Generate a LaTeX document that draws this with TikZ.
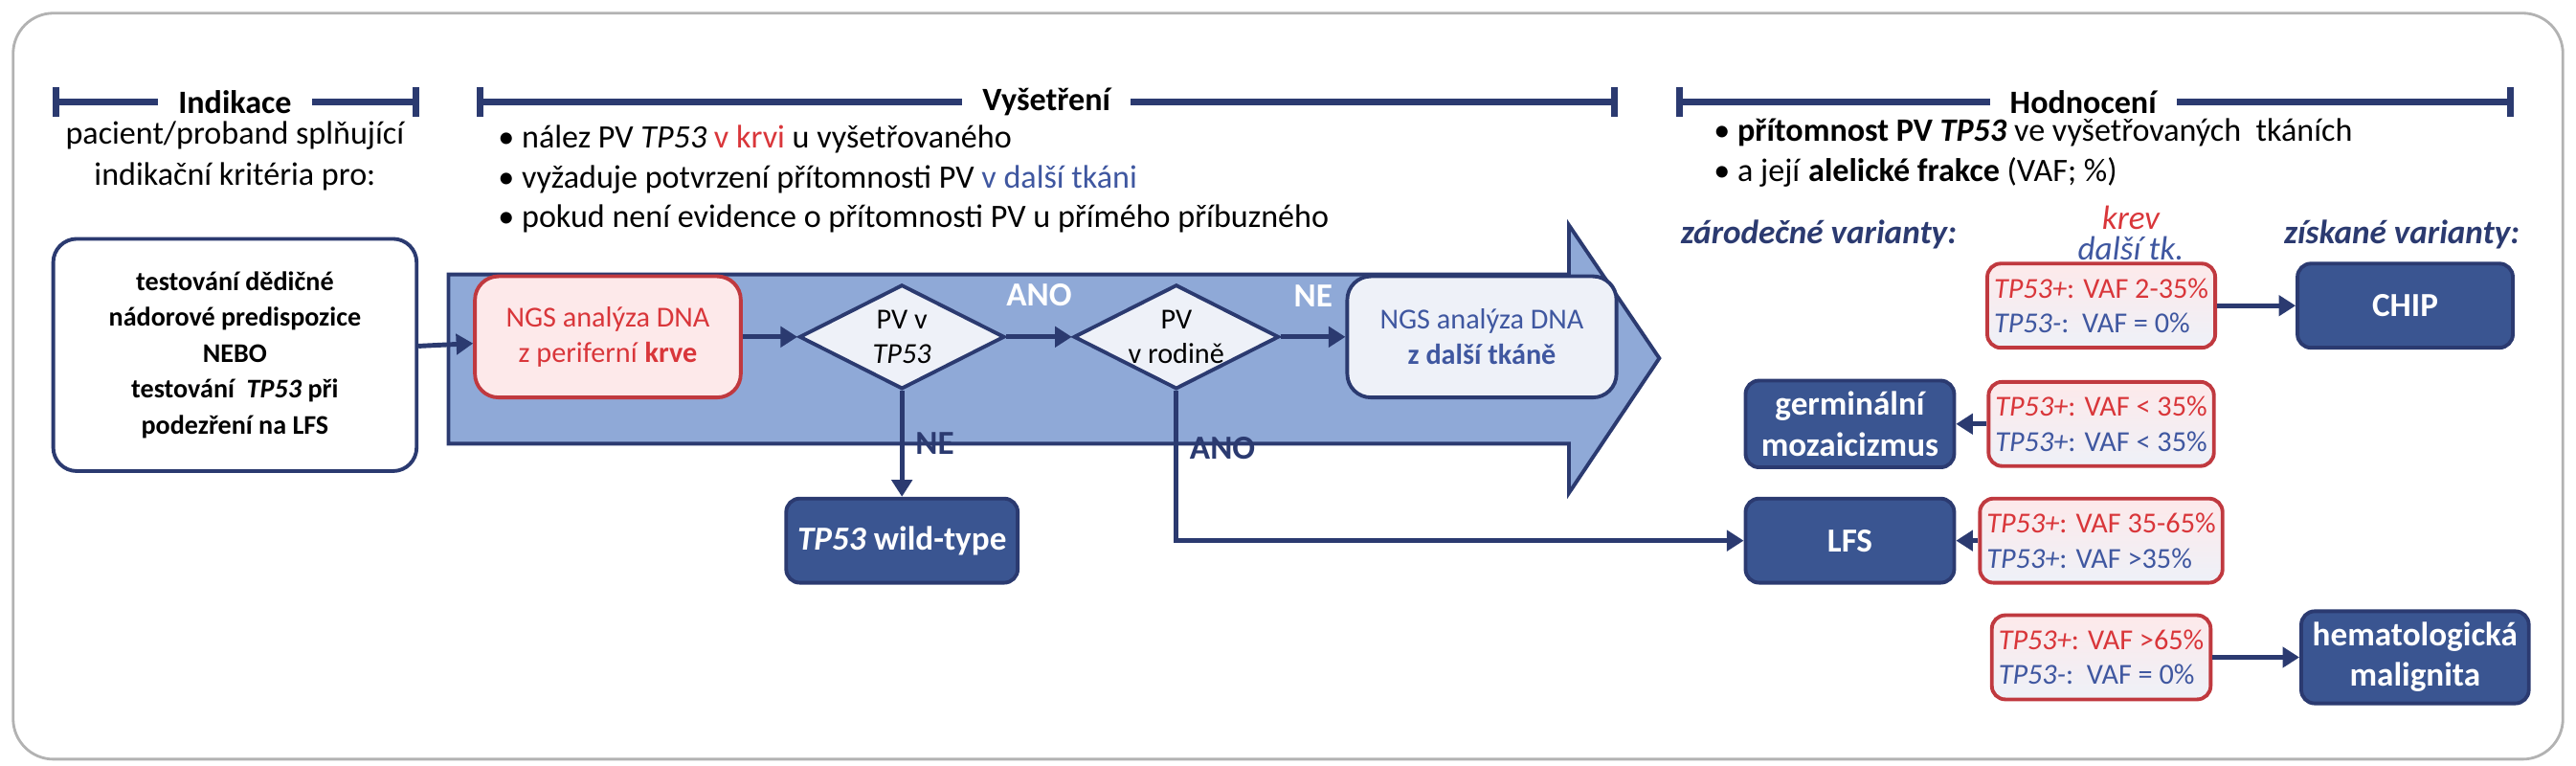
\documentclass[tikz,border=0pt]{standalone}
\usepackage{fontspec}
\setmainfont{Carlito}
\usetikzlibrary{arrows.meta,shapes.geometric,positioning}
\definecolor{navy}{HTML}{2B3A70}
\definecolor{boxblue}{HTML}{3A5591}
\definecolor{arrowfill}{HTML}{8FA9D7}
\definecolor{paleblue}{HTML}{EEF1F8}
\definecolor{redtxt}{HTML}{D9363A}
\definecolor{redline}{HTML}{C0393F}
\definecolor{palered}{HTML}{FDE9EA}
\definecolor{bluetxt}{HTML}{3F57A0}
\tikzset{
  bar/.style={navy,line width=2pt,{Bar[width=9pt]}-{Bar[width=9pt]}},
  bartxt/.style={fill=white,font=\bfseries,text=black,inner xsep=6pt},
  flow/.style={navy,line width=1.4pt,-{Triangle[length=5pt,width=6pt]}},
  dark/.style={rounded corners=4pt,draw=navy,line width=1.1pt,fill=boxblue,text=white,font=\bfseries,align=center,minimum height=25pt},
  vaf/.style={rounded corners=4pt,draw=redline,line width=1.1pt,top color=palered,bottom color=paleblue,align=left,minimum height=25pt,minimum width=64pt,inner xsep=2pt},
  dia/.style={diamond,aspect=2,draw=navy,line width=1.1pt,fill=paleblue,align=center,inner sep=0pt,minimum width=61pt,minimum height=31pt},
  lbl/.style={font=\bfseries},
  note/.style={font=\fontsize{9.7}{11.2}\selectfont}
}
\begin{document}
\begin{tikzpicture}[x=0.1716mm,y=-0.1716mm,font=\fontsize{8.6}{10.4}\selectfont]
\useasboundingbox (0,0) rectangle (1568,466);
\draw[gray!60,line width=0.8pt,rounded corners=12pt] (8,8) rectangle (1560,462);
% headers
\draw[bar] (32,62) -- (255,62);
\node[bartxt,note] (hind) at (143,62) {\bfseries Indikace};
\draw[bar] (290,62) -- (985,62);
\node[bartxt,note] (hvys) at (637,62) {\bfseries Vyšetření};
\draw[bar] (1020,62) -- (1530,62);
\node[bartxt,note] (hhod) at (1268,62) {\bfseries Hodnocení};
\node[note,align=center] (ind) at (143,95) {pacient/proband splňující\\[1pt]indikační kritéria pro:};
\node[note,anchor=west,align=left] (vys) at (296,109) {\textbullet\ nález PV \textit{TP53} \textcolor{redtxt}{v krvi} u vyšetřovaného\\[0.6pt]
\textbullet\ vyžaduje potvrzení přítomnosti PV \textcolor{bluetxt}{v další tkáni}\\[0.6pt]
\textbullet\ pokud není evidence o přítomnosti PV u přímého příbuzného};
\node[note,anchor=west,align=left] (hod) at (1036,93) {\textbullet\ \textbf{přítomnost PV \textit{TP53}} ve vyšetřovaných\ \ tkáních\\[0.5pt]
\textbullet\ a její \textbf{alelické frakce} (VAF; \%)};
% big arrow
\draw[navy,line width=1.1pt,fill=arrowfill] (273,167) -- (955,167) -- (955,137) -- (1010,218) -- (955,300) -- (955,270) -- (273,270) -- cycle;
% nodes
\node[rounded corners=7pt,draw=navy,line width=1.1pt,fill=white,align=center,font=\fontsize{8}{10.7}\selectfont\bfseries,minimum width=108pt,minimum height=69pt] (start) at (143,216) {testování dědičné\\nádorové predispozice\\NEBO\\testování\ \ \textit{TP53} při\\podezření na LFS};
\node[rounded corners=7pt,draw=redline,line width=1.1pt,fill=palered,text=redtxt,align=center,minimum width=79pt,minimum height=36pt] (ngs1) at (370,205) {NGS analýza DNA\\z periferní \textbf{krve}};
\node[dia] (d1) at (549,205) {PV v\\\textit{TP53}};
\node[dia] (d2) at (716,205) {PV\\v rodině};
\node[rounded corners=7pt,draw=navy,line width=1.1pt,fill=paleblue,text=bluetxt,align=center,minimum width=80pt,minimum height=36pt] (ngs2) at (902,205) {NGS analýza DNA\\\textbf{z další tkáně}};
\node[dark,minimum width=63pt] (wt) at (549,329) {\textit{TP53} wild-type};
\node[dark,minimum width=62pt] (lfs) at (1126,329) {LFS};
\node[dark,minimum width=62pt] (germ) at (1126,258) {germinální\\mozaicizmus};
\node[dark,minimum width=64pt] (chip) at (1464,186) {CHIP};
\node[dark,minimum width=64pt] (hema) at (1470,400) {hematologická\\malignita};
\node[vaf] (v1) at (1279,186) {\textcolor{redtxt}{\textit{TP53+}: VAF 2-35\%}\\\textcolor{bluetxt}{\textit{TP53-}:\ \ VAF = 0\%}};
\node[vaf] (v2) at (1279,258) {\textcolor{redtxt}{\textit{TP53+}: VAF < 35\%}\\\textcolor{bluetxt}{\textit{TP53+}: VAF < 35\%}};
\node[vaf] (v3) at (1279,329) {\textcolor{redtxt}{\textit{TP53+}: VAF 35-65\%}\\\textcolor{bluetxt}{\textit{TP53+}: VAF >35\%}};
\node[vaf] (v4) at (1279,400) {\textcolor{redtxt}{\textit{TP53+}: VAF >65\%}\\\textcolor{bluetxt}{\textit{TP53-}:\ \ VAF = 0\%}};
\node[align=center,font=\itshape,inner sep=0pt] (krev) at (1297,142) {\textcolor{redtxt}{krev}\\[-3pt]\textcolor{bluetxt}{další tk.}};
\node[font=\bfseries\itshape,text=navy] (zar) at (1107,143) {zárodečné varianty:};
\node[font=\bfseries\itshape,text=navy] (zis) at (1462,143) {získané varianty:};
% connectors
\draw[flow] (start) -- (ngs1);
\draw[flow] (ngs1) -- (d1);
\draw[flow] (d1) -- node[lbl,text=white,above=5pt] {ANO} (d2);
\draw[flow] (d2) -- node[lbl,text=white,above=5pt] {NE} (ngs2);
\draw[flow] (d1.south) -- node[lbl,right,pos=0.5] {NE} (wt);
\draw[flow] (d2.south) -- node[lbl,right,pos=0.38] {ANO} (d2.south |- lfs) -- (lfs);
\draw[flow] (v1) -- (chip);
\draw[flow] (v2) -- (germ);
\draw[flow] (v3) -- (lfs);
\draw[flow] (v4) -- (hema);
\end{tikzpicture}
\end{document}
